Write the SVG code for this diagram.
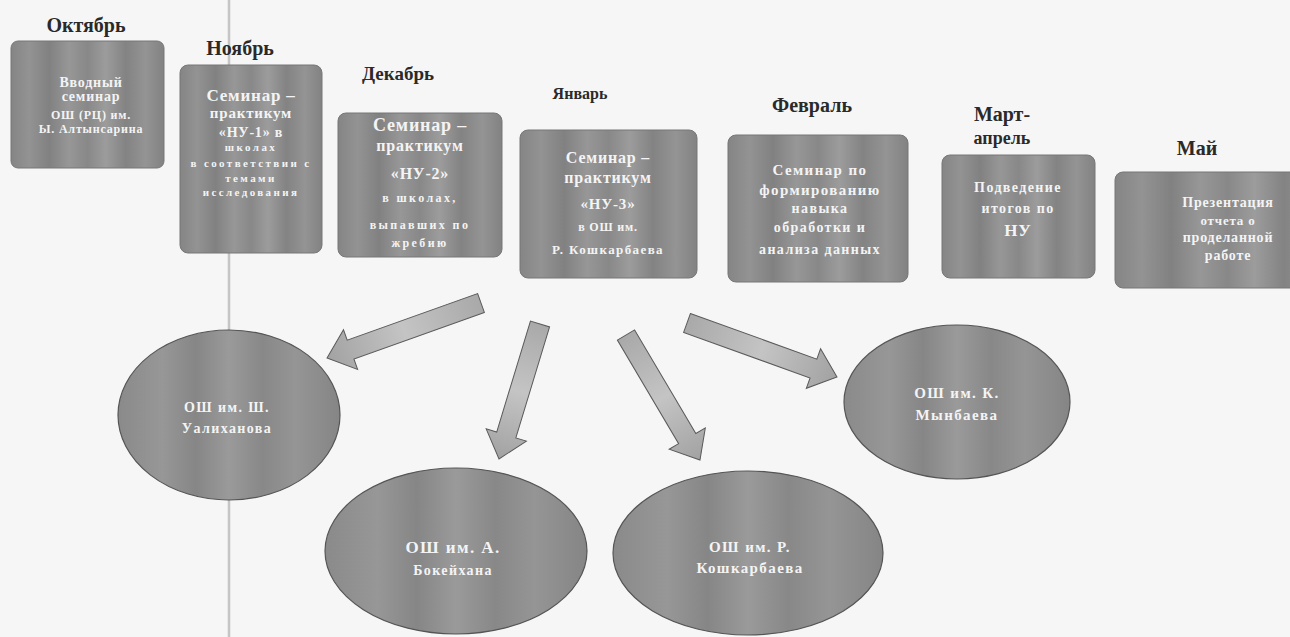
<svg xmlns="http://www.w3.org/2000/svg" width="1290" height="637" viewBox="0 0 1290 637">
<defs>
<linearGradient id="boxFill" x1="0" y1="0" x2="1" y2="0">
<stop offset="0" stop-color="#858585"/>
<stop offset="0.12" stop-color="#939393"/>
<stop offset="0.25" stop-color="#818181"/>
<stop offset="0.38" stop-color="#979797"/>
<stop offset="0.5" stop-color="#888888"/>
<stop offset="0.62" stop-color="#9c9c9c"/>
<stop offset="0.75" stop-color="#838383"/>
<stop offset="0.88" stop-color="#949494"/>
<stop offset="1" stop-color="#828282"/>
</linearGradient>
<linearGradient id="ellFill" x1="0" y1="0" x2="1" y2="0">
<stop offset="0" stop-color="#8a8a8a"/>
<stop offset="0.2" stop-color="#979797"/>
<stop offset="0.35" stop-color="#868686"/>
<stop offset="0.5" stop-color="#9a9a9a"/>
<stop offset="0.65" stop-color="#888888"/>
<stop offset="0.8" stop-color="#959595"/>
<stop offset="1" stop-color="#858585"/>
</linearGradient>
<linearGradient id="arrFill" x1="0" y1="0" x2="1" y2="0">
<stop offset="0" stop-color="#a9a9a9"/>
<stop offset="0.5" stop-color="#c4c4c4"/>
<stop offset="1" stop-color="#a2a2a2"/>
</linearGradient>
</defs>
<style>
.bg{fill:#f6f6f6}
.scan{stroke:#b5b5b5;stroke-width:2.5;opacity:0.75}
.month{font-family:"Liberation Serif","DejaVu Serif",serif;font-weight:bold;fill:#2a2a2a;text-anchor:middle}
.box{fill:url(#boxFill);stroke:#777777;stroke-width:1}
.ell{fill:url(#ellFill);stroke:#555555;stroke-width:1.2}
.t{font-family:"Liberation Serif","DejaVu Serif",serif;font-weight:bold;fill:#f4f4f4;text-anchor:middle;letter-spacing:0.8px}
.s{letter-spacing:2.4px}
.e{letter-spacing:1.4px}
.arrow{fill:url(#arrFill);stroke:#5a5a5a;stroke-width:1}
</style>
<rect class="bg" x="0" y="0" width="1290" height="637"/>
<line class="scan" x1="229" y1="0" x2="229" y2="637"/>

<g id="oct">
<text class="month" x="86" y="32" font-size="20">Октябрь</text>
<rect class="box" x="11" y="41" width="153" height="127" rx="7"/>
<text class="t" x="91" y="87" font-size="14">Вводный</text>
<text class="t" x="91" y="101" font-size="14">семинар</text>
<text class="t" x="91" y="119" font-size="12">ОШ (РЦ) им.</text>
<text class="t" x="91" y="133" font-size="12">Ы. Алтынсарина</text>
</g>

<g id="nov">
<text class="month" x="240" y="55" font-size="20">Ноябрь</text>
<rect class="box" x="180" y="65" width="142" height="188" rx="8"/>
<text class="t" x="251" y="101" font-size="17">Семинар –</text>
<text class="t" x="251" y="118" font-size="15">практикум</text>
<text class="t" x="251" y="137" font-size="14">«НУ-1» в</text>
<text class="t s" x="251" y="151" font-size="11">школах</text>
<text class="t s" x="251" y="167" font-size="11">в соответствии с</text>
<text class="t s" x="251" y="182" font-size="11">темами</text>
<text class="t s" x="251" y="196" font-size="11">исследования</text>
</g>

<g id="dec">
<text class="month" x="398" y="80" font-size="19">Декабрь</text>
<rect class="box" x="338" y="113" width="164" height="144" rx="8"/>
<text class="t" x="420" y="131" font-size="18">Семинар –</text>
<text class="t" x="420" y="151" font-size="16">практикум</text>
<text class="t" x="420" y="179" font-size="16">«НУ-2»</text>
<text class="t s" x="420" y="202" font-size="12">в школах,</text>
<text class="t s" x="420" y="229" font-size="12">выпавших по</text>
<text class="t s" x="420" y="247" font-size="12">жребию</text>
</g>

<g id="jan">
<text class="month" x="580" y="99" font-size="16">Январь</text>
<rect class="box" x="520" y="130" width="177" height="148" rx="8"/>
<text class="t" x="608" y="163" font-size="16">Семинар –</text>
<text class="t" x="608" y="183" font-size="16">практикум</text>
<text class="t" x="608" y="209" font-size="15">«НУ-3»</text>
<text class="t" x="608" y="231" font-size="12">в ОШ им.</text>
<text class="t e" x="608" y="254" font-size="13">Р. Кошкарбаева</text>
</g>

<g id="feb">
<text class="month" x="812" y="112" font-size="20">Февраль</text>
<rect class="box" x="728" y="135" width="180" height="147" rx="8"/>
<text class="t e" x="820" y="175" font-size="15">Семинар  по</text>
<text class="t e" x="820" y="195" font-size="15">формированию</text>
<text class="t e" x="820" y="213" font-size="14">навыка</text>
<text class="t e" x="820" y="232" font-size="14">обработки и</text>
<text class="t e" x="820" y="254" font-size="14">анализа данных</text>
</g>

<g id="mar">
<text class="month" x="1002" y="121" font-size="20">Март-</text>
<text class="month" x="1002" y="144" font-size="18">апрель</text>
<rect class="box" x="942" y="155" width="153" height="123" rx="8"/>
<text class="t e" x="1018" y="192" font-size="14">Подведение</text>
<text class="t e" x="1018" y="213" font-size="14">итогов по</text>
<text class="t" x="1018" y="236" font-size="17">НУ</text>
</g>

<g id="may">
<text class="month" x="1197" y="155" font-size="20">Май</text>
<rect class="box" x="1115" y="172" width="225" height="116" rx="8"/>
<text class="t" x="1228" y="207" font-size="14">Презентация</text>
<text class="t" x="1228" y="225" font-size="13">отчета о</text>
<text class="t" x="1228" y="242" font-size="14">проделанной</text>
<text class="t" x="1228" y="260" font-size="14">работе</text>
</g>

<g id="connectors">
<path class="arrow" transform="translate(481,303) rotate(160.35)" d="M0,-10 L138.5,-10 L138.5,-21 L163.5,0 L138.5,21 L138.5,10 L0,10 Z"/>
<path class="arrow" transform="translate(540,324) rotate(106.9)" d="M0,-10 L116,-10 L116,-21 L141,0 L116,21 L116,10 L0,10 Z"/>
<path class="arrow" transform="translate(626,335) rotate(59.4)" d="M0,-10 L120.3,-10 L120.3,-21 L145.3,0 L120.3,21 L120.3,10 L0,10 Z"/>
<path class="arrow" transform="translate(687,323) rotate(19.8)" d="M0,-10 L134.4,-10 L134.4,-21 L159.4,0 L134.4,21 L134.4,10 L0,10 Z"/>
</g>

<g id="school-ualikhanov">
<ellipse class="ell" cx="229" cy="415" rx="111" ry="85"/>
<text class="t e" x="227" y="412" font-size="14">ОШ им. Ш.</text>
<text class="t e" x="227" y="433" font-size="14">Уалиханова</text>
</g>

<g id="school-bokeikhan">
<ellipse class="ell" cx="456" cy="551" rx="131" ry="83"/>
<text class="t e" x="453" y="553" font-size="17">ОШ им. А.</text>
<text class="t e" x="453" y="575" font-size="14">Бокейхана</text>
</g>

<g id="school-koshkarbaev">
<ellipse class="ell" cx="748" cy="553" rx="135" ry="82"/>
<text class="t e" x="750" y="552" font-size="15">ОШ им. Р.</text>
<text class="t e" x="750" y="573" font-size="15">Кошкарбаева</text>
</g>

<g id="school-mynbaev">
<ellipse class="ell" cx="957" cy="402" rx="113" ry="77"/>
<text class="t e" x="957" y="398" font-size="15">ОШ им. К.</text>
<text class="t e" x="957" y="420" font-size="15">Мынбаева</text>
</g>
</svg>
